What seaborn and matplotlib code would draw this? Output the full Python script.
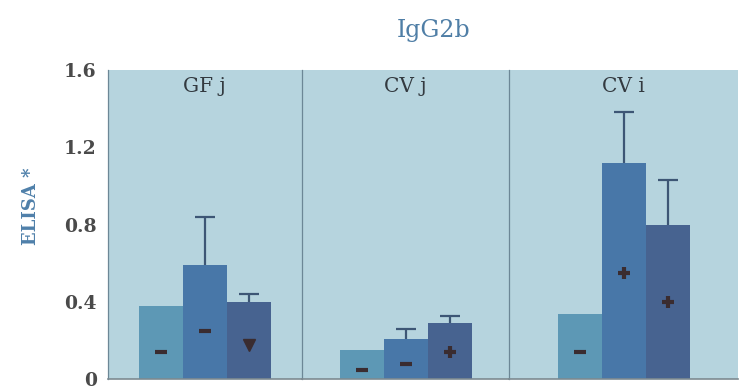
import matplotlib.pyplot as plt
import numpy as np
import pandas as pd
import seaborn as sns

groups = ["GF j", "CV j", "CV i"]
series = ["s1", "s2", "s3"]
means = {
    "GF j": [0.38, 0.59, 0.40],
    "CV j": [0.15, 0.21, 0.29],
    "CV i": [0.34, 1.12, 0.80],
}
errors = {
    "GF j": [0.0, 0.25, 0.04],
    "CV j": [0.0, 0.05, 0.04],
    "CV i": [0.0, 0.26, 0.23],
}
medians = {
    "GF j": [0.14, 0.25, 0.18],
    "CV j": [0.05, 0.08, 0.14],
    "CV i": [0.14, 0.55, 0.40],
}
median_marks = {
    "GF j": ["_", "_", "v"],
    "CV j": ["_", "_", "+"],
    "CV i": ["_", "+", "+"],
}
yticks = [0, 0.4, 0.8, 1.2, 1.6]
ytick_labels = ["0", "0.4", "0.8", "1.2", "1.6"]

palette = ["#5d98b5", "#4877a8", "#476390"]
bg = "#b6d4de"
serif = ["DejaVu Serif"]

sns.set_style("white")
plt.rcParams["font.family"] = serif

fig = plt.figure(figsize=(7.39, 3.92), dpi=100)
panel_px = [194, 208, 229]
gs = fig.add_gridspec(1, 3, width_ratios=panel_px, left=0.146, right=0.999,
                      bottom=0.032, top=0.822, wspace=0)

for i, g in enumerate(groups):
    ax = fig.add_subplot(gs[0, i])
    df = pd.DataFrame({"group": g, "series": series, "value": means[g]})
    sns.barplot(data=df, x="group", y="value", hue="series", palette=palette,
                width=132 / panel_px[i], saturation=1, legend=False,
                linewidth=0, ax=ax)
    bars = [p for p in ax.patches if p.get_height() > 0]
    for bar, err, med, mk in zip(bars, errors[g], medians[g], median_marks[g]):
        cx = bar.get_x() + bar.get_width() / 2
        h = bar.get_height()
        if err > 0:
            # one-sided error bar: stem plus top cap only
            _, caps, _ = ax.errorbar([cx], [h], yerr=[[0], [err]], fmt="none",
                                     ecolor="#3d5675", elinewidth=1.6,
                                     capsize=7.5, capthick=1.6, zorder=3)
            for c in caps:
                if np.allclose(c.get_ydata(), h):
                    c.set_visible(False)
        ax.plot([cx], [med], marker=mk, color="#3a2c30", markersize=9,
                markeredgewidth=3 if mk in "_+" else 1, zorder=4)
    ax.set_facecolor(bg)
    ax.set_xlim(-0.5, 0.5)
    ax.set_ylim(0, 1.6)
    ax.set_xlabel("")
    ax.set_xticks([])
    ax.text(0.5, 0.946, g, transform=ax.transAxes, ha="center", va="center",
            fontsize=14.5, color="#333a40")
    for s in ["top", "right"]:
        ax.spines[s].set_visible(False)
    ax.spines["left"].set_color("#6c8796")
    ax.spines["left"].set_linewidth(0.9)
    ax.spines["bottom"].set_color("#7d8a90")
    ax.spines["bottom"].set_linewidth(1.2)
    if i == 0:
        ax.set_yticks(yticks)
        ax.set_yticklabels(ytick_labels, fontsize=13.5, fontweight="bold",
                           color="#4a4a4a")
        ax.tick_params(axis="y", length=6, color="#888888", pad=2)
        ax.set_ylabel("ELISA *", fontsize=13, fontweight="bold",
                      color="#4f80aa")
        ax.yaxis.set_label_coords(-0.35, 0.56)
    else:
        ax.set_yticks([])
        ax.set_ylabel("")

fig.text(0.587, 0.922, "IgG2b", ha="center", va="center", fontsize=17,
         color="#4f7ea6")

fig.savefig("out.png", dpi=100)
